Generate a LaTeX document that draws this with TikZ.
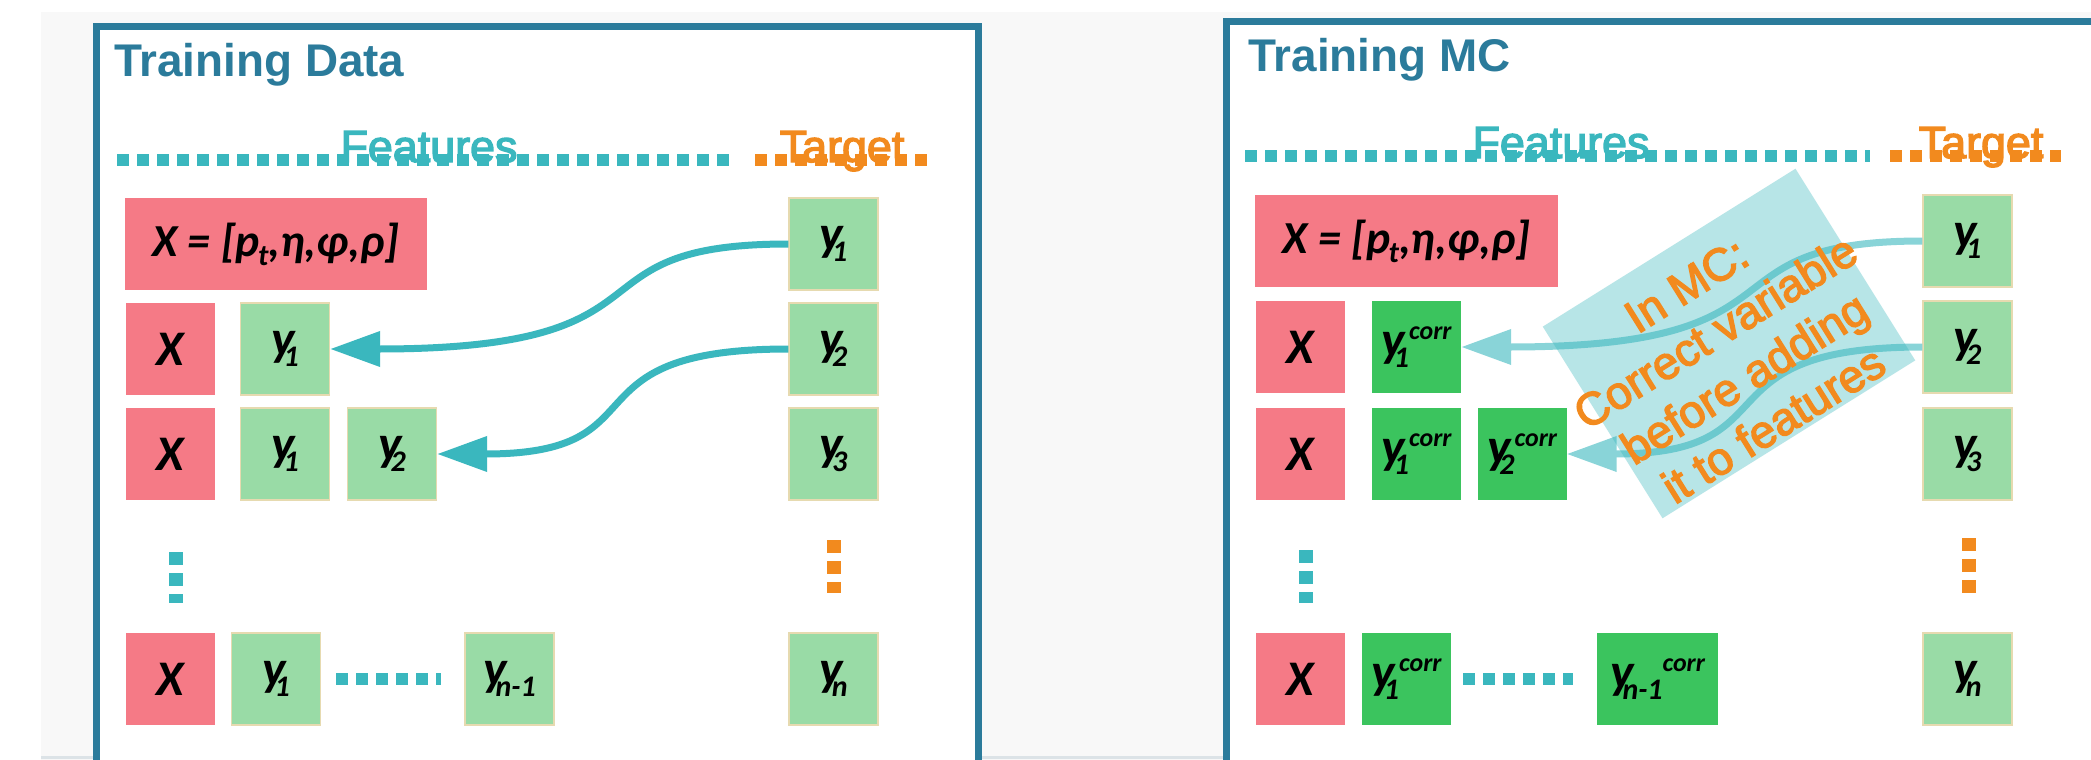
\documentclass[tikz,border=0pt]{standalone}
\usepackage{fontspec}
\setmainfont{Liberation Sans}
\newfontfamily\tilefont{Carlito}
\newfontfamily\headfont[FakeBold=3]{Liberation Sans}
\usetikzlibrary{arrows.meta}

\definecolor{frameblue}{HTML}{2B7B9B}
\definecolor{featteal}{HTML}{3AB7BE}
\definecolor{targorange}{HTML}{F28A1E}
\definecolor{xpink}{HTML}{F57A86}
\definecolor{ylight}{HTML}{99DBA6}
\definecolor{ydark}{HTML}{3BC45E}
\definecolor{ybord}{HTML}{E6DAB0}
\definecolor{pagegray}{HTML}{F8F8F8}
\definecolor{edgegray}{HTML}{DCE3E7}

% letter styles inside the tiles
\newcommand\tilef{\tilefont\bfseries\itshape\fontsize{50}{50}\selectfont}
\newcommand\vecf{\fontsize{46}{46}\selectfont}
\newcommand\subf{\fontsize{30}{30}\selectfont}
\newcommand\supf{\fontsize{26}{26}\selectfont}
\newcommand\ysub[1]{y\kern-11bp\raisebox{-11bp}{\subf #1}}
\newcommand\ycorr[1]{y\kern-11bp\raisebox{-11bp}{\subf #1}\raisebox{17bp}{\supf corr}}

\begin{document}
\begin{tikzpicture}[x=1bp,y=-1bp,
  tile/.style={inner sep=0pt, minimum height=92bp, font=\tilef, text=black},
  small/.style={minimum width=89bp},
  pinkbox/.style={tile, fill=xpink},
  lgbox/.style={tile, fill=ylight, draw=ybord, line width=1.2bp},
  dgbox/.style={tile, fill=ydark},
  frame/.style={draw=frameblue, line width=7bp},
  title/.style={anchor=base west, inner sep=0pt, text=frameblue,
    font=\bfseries\fontsize{46}{46}\selectfont},
  header/.style={anchor=base, inner sep=0pt, font=\headfont\fontsize{45}{45}\selectfont},
  dotrow/.style={line width=12bp, dash pattern=on 12bp off 8bp},
  dotcol/.style={line width=14bp, dash pattern=on 13bp off 8bp},
  flow/.style={line width=7bp, -{Triangle[length=50bp,width=34bp]}},
]
\useasboundingbox (0,0) rectangle (2091,760);
\clip (0,0) rectangle (2091,760);

% page background
\fill[white] (0,0) rectangle (2091,760);
\fill[pagegray] (41,12) rectangle (2091,760);
\draw[edgegray, line width=3bp] (41,757.5) -- (2091,757.5);

% ---------------- left panel: training data ----------------
\fill[white] (96.5,26.5) rectangle (978.5,790);
\draw[frame] (96.5,26.5) rectangle (978.5,790);
\node[title] (dtitle) at (114,77) {Training Data};

\coordinate (dfa) at (117,160);  \coordinate (dfb) at (737,160);
\coordinate (dta) at (755,160);  \coordinate (dtb) at (927,160);
\draw[dotrow, featteal] (dfa) -- (dfb);
\draw[dotrow, targorange] (dta) -- (dtb);
\node[header, text=featteal] (dfeat) at (429,162) {Features};
\node[header, text=targorange] (dtarg) at (842,162) {Target};

\node[pinkbox, minimum width=302bp] (dX0) at (276,244)
  {\vecf X = [p\kern-2bp\raisebox{-9bp}{\subf t},η,φ,ρ]};
\node[pinkbox, small] (dX2) at (170,349) {X};
\node[pinkbox, small] (dX3) at (170,454) {X};
\node[pinkbox, small] (dX5) at (170,679) {X};
\node[lgbox, small] (dY21) at (285,349) {\ysub{1}};
\node[lgbox, small] (dY31) at (285,454) {\ysub{1}};
\node[lgbox, small] (dY32) at (392,454) {\ysub{2}};
\node[lgbox, small] (dY51) at (276,679) {\ysub{1}};
\node[lgbox, small] (dY5n) at (509.5,679) {\ysub{n-1}};
\node[lgbox, small] (dT1) at (833.5,244) {\ysub{1}};
\node[lgbox, small] (dT2) at (833.5,349) {\ysub{2}};
\node[lgbox, small] (dT3) at (833.5,454) {\ysub{3}};
\node[lgbox, small] (dTn) at (833.5,679) {\ysub{n}};

\draw[dotrow, featteal] (dY51.east) ++(15,0) -- ([xshift=-23bp]dY5n.west);
\draw[dotcol, featteal] (176,552) -- (176,603);
\draw[dotcol, targorange] (834,540) -- (834,593);

\draw[flow, featteal] (dT1.west) .. controls +(-230,0) and +(360,0) .. (dY21.east);
\draw[flow, featteal] (dT2.west) .. controls +(-230,0) and +(230,0) .. (dY32.east);

% ---------------- right panel: training MC ----------------
\fill[white] (1226.5,21.5) rectangle (2120,790);
\draw[frame] (1226.5,21.5) rectangle (2120,790);
\node[title] (mtitle) at (1248,72) {Training MC};

\coordinate (mfa) at (1245,156); \coordinate (mfb) at (1870,156);
\coordinate (mta) at (1890,156); \coordinate (mtb) at (2061,156);
\draw[dotrow, featteal] (mfa) -- (mfb);
\draw[dotrow, targorange] (mta) -- (mtb);
\node[header, text=featteal] (mfeat) at (1561,158) {Features};
\node[header, text=targorange] (mtarg) at (1981,158) {Target};

\node[pinkbox, minimum width=303bp] (mX0) at (1406.5,241)
  {\vecf X = [p\kern-2bp\raisebox{-9bp}{\subf t},η,φ,ρ]};
\node[pinkbox, small] (mX2) at (1300,347) {X};
\node[pinkbox, small] (mX3) at (1300,454) {X};
\node[pinkbox, small] (mX5) at (1300,679) {X};
\node[dgbox, small] (mC21) at (1416.5,347) {\ycorr{1}};
\node[dgbox, small] (mC31) at (1416.5,454) {\ycorr{1}};
\node[dgbox, small] (mC32) at (1522,454) {\ycorr{2}};
\node[dgbox, small] (mC51) at (1406.5,679) {\ycorr{1}};
\node[dgbox, minimum width=121bp] (mC5n) at (1657.5,679) {\ycorr{n-1}};
\node[lgbox, small] (mT1) at (1967.5,241) {\ysub{1}};
\node[lgbox, small] (mT2) at (1967.5,347) {\ysub{2}};
\node[lgbox, small] (mT3) at (1967.5,454) {\ysub{3}};
\node[lgbox, small] (mTn) at (1967.5,679) {\ysub{n}};

\draw[dotrow, featteal] (mC51.east) ++(12,0) -- ([xshift=-24bp]mC5n.west);
\draw[dotcol, featteal] (1306,550) -- (1306,603);
\draw[dotcol, targorange] (1969,538) -- (1969,593);

\draw[flow, featteal!60!white] (mT1.west) .. controls +(-230,0) and +(360,0) .. (mC21.east);
\draw[flow, featteal!60!white] (mT2.west) .. controls +(-230,0) and +(230,0) .. (mC32.east);

% correction note laid over the arrows
\node[rotate=32, minimum width=298bp, minimum height=226bp, inner sep=0pt,
  fill=featteal, fill opacity=0.36] (mnote) at (1729,343.5) {};
\node[rotate=32, text=targorange, align=center, inner sep=0pt,
  font=\headfont\fontsize{46}{55}\selectfont] (mnotetext) at (1730,355)
  {In MC:\\Correct variable\\before adding\\it to features};
\end{tikzpicture}
\end{document}
